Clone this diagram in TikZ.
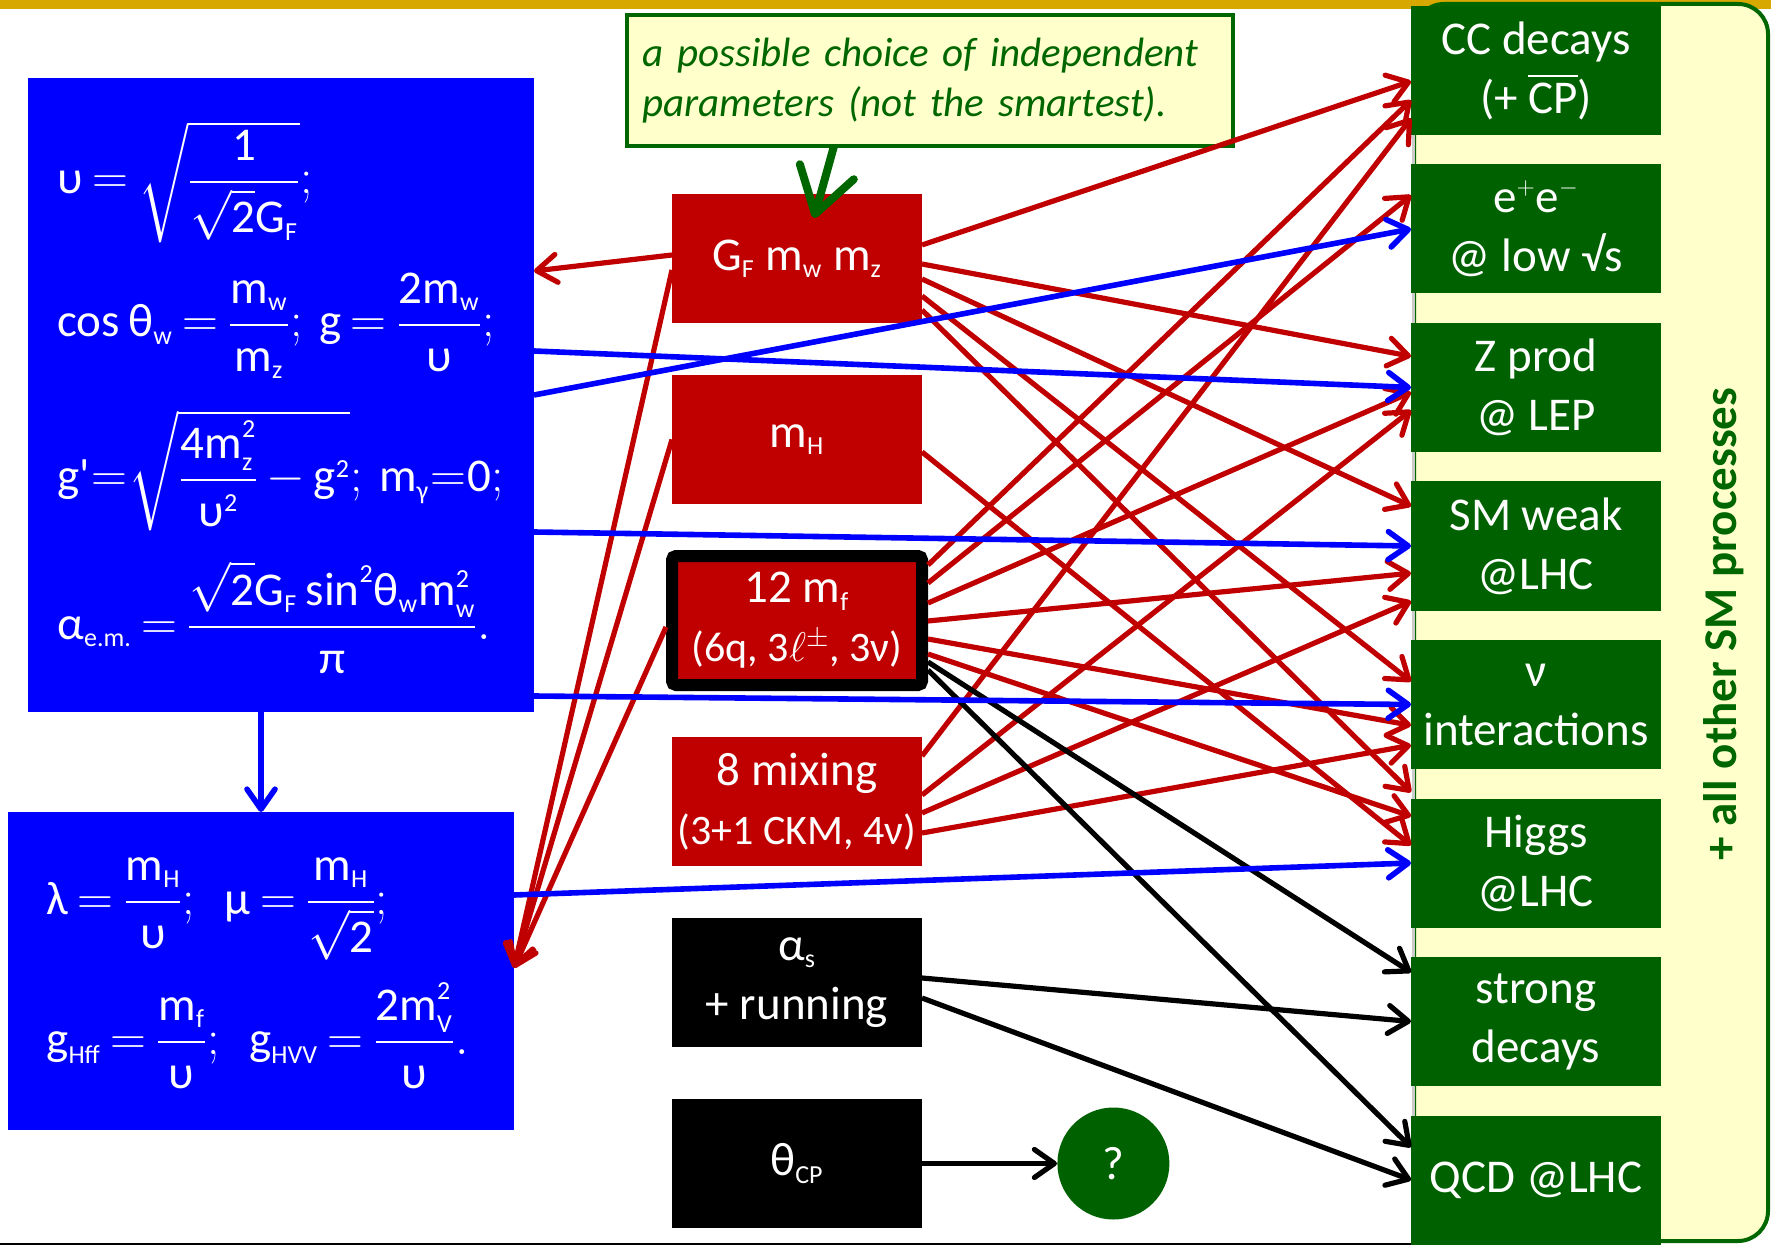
\documentclass[tikz,border=0pt]{standalone}
\usepackage{amsmath}
\usepackage{fontspec}
\setmainfont{Carlito}
\usepackage{tikz}
\usetikzlibrary{positioning,arrows.meta}

\definecolor{parred}{RGB}{192,0,0}
\definecolor{procgreen}{RGB}{0,97,0}
\definecolor{eqblue}{RGB}{0,0,255}
\definecolor{notefill}{RGB}{255,255,204}
\definecolor{notegreen}{RGB}{0,102,0}
\definecolor{bargold}{RGB}{214,168,0}
\definecolor{baseline}{RGB}{150,40,60}

\DeclareMathSizes{23.5}{23.5}{13}{10}
\thickmuskip=3.5mu plus 1mu
\medmuskip=3mu plus 1mu

\newcommand\rmt[1]{\text{#1}}
\newcommand\boxfont{\fontsize{23.5}{29.5}\selectfont}
\newcommand\subfont{\fontsize{21}{26}\selectfont}
\newcommand\notefont{\fontsize{20.5}{25}\selectfont\itshape}

\begin{document}
\begin{tikzpicture}[
    x=0.5pt, y=-0.5pt,
    node distance=26pt,
    parbox/.style={fill=parred, text=white, minimum width=125pt, minimum height=64.5pt, inner sep=0pt, outer sep=0pt, align=center, font=\boxfont},
    procbox/.style={parbox, fill=procgreen},
    eqbox/.style={fill=eqblue, inner sep=0pt, outer sep=0pt},
    eqn/.style={text=white, anchor=base west, inner sep=0pt, font=\boxfont},
    note/.style={draw=notegreen, line width=2pt, fill=notefill, text=notegreen, font=\notefont, align=left, text width=287pt, inner xsep=8pt, minimum height=65.5pt, outer sep=0pt},
    qcirc/.style={circle, fill=procgreen, text=white, minimum size=56pt, inner sep=0pt, font=\boxfont},
    redarr/.style={-{Straight Barb[length=10pt,width=14pt,round]}, draw=parred, line width=2.6pt},
    bluearr/.style={redarr, draw=eqblue, line width=2.8pt},
    blackarr/.style={redarr, draw=black},
    notearr/.style={-{Straight Barb[length=22pt,width=28pt,round]}, draw=notegreen, line width=4pt},
]
\useasboundingbox (0,0) rectangle (1771,1245);
\fill[bargold] (0,0) rectangle (1771,9);
\draw[baseline, line width=1pt] (0,1244) -- (1411,1244);

% right panel
\draw[draw=notegreen, fill=notefill, line width=2pt, rounded corners=15pt] (1414,4) rectangle (1768,1241);
\draw[black!20, line width=1.5pt] (1413,30) -- (1413,1215);
\node[font=\boxfont\bfseries, text=notegreen, rotate=90] (allsm) at (1724,624) {+ all other SM processes};

% relations
\node[eqbox, minimum width=253pt, minimum height=317pt] (eqa) at (281,395) {};
\node[eqbox, minimum width=253pt, minimum height=159pt] (eqb) at (261,971) {};
\node[eqn] (eqv) at (57,194) {$\rmt{υ}=\sqrt{\dfrac{\rmt{1}}{\sqrt{\rmt{2}}\rmt{G}_{\rmt{F}}}};$};
\node[eqn] (eqcos) at (57,337) {$\rmt{cos}\,\rmt{θ}_{\rmt{w}}=\dfrac{\rmt{m}_{\rmt{w}}}{\rmt{m}_{\rmt{z}}};\,\rmt{g}=\dfrac{\rmt{2m}_{\rmt{w}}}{\rmt{υ}};$};
\node[eqn] (eqgp) at (57,492) {$\rmt{g\textquotesingle}\!=\!\sqrt{\dfrac{\rmt{4m}_{\rmt{z}}^{\rmt{2}}}{\rmt{υ}^{\rmt{2}}}-\rmt{g}^{\rmt{2}}};\,\rmt{m}_{\rmt{γ}}\!=\!\rmt{0};$};
\node[eqn] (eqal) at (57,639) {$\rmt{α}_{\rmt{e.m.}}=\dfrac{\sqrt{\rmt{2}}\rmt{G}_{\rmt{F}}\,\rmt{sin}^{\rmt{2}}\rmt{θ}_{\rmt{w}}\rmt{m}_{\rmt{w}}^{\rmt{2}}}{\rmt{π}}.$};
\node[eqn] (eqlam) at (46,914) {$\rmt{λ}=\dfrac{\rmt{m}_{\rmt{H}}}{\rmt{υ}};\ \ \rmt{μ}=\dfrac{\rmt{m}_{\rmt{H}}}{\sqrt{\rmt{2}}};$};
\node[eqn] (eqghf) at (46,1054) {$\rmt{g}_{\rmt{Hff}}=\dfrac{\rmt{m}_{\rmt{f}}}{\rmt{υ}};\ \ \rmt{g}_{\rmt{HVV}}=\dfrac{\rmt{2m}_{\rmt{V}}^{\rmt{2}}}{\rmt{υ}}.$};

% parameters
\node[parbox] (gf) at (797,258.5) {$\rmt{G}_{\rmt{F}}$ $\rmt{m}_{\rmt{w}}$ $\rmt{m}_{\rmt{z}}$};
\node[parbox, below=of gf] (mh) {$\rmt{m}_{\rmt{H}}$};
\node[parbox, below=of mh, draw=black, line width=6pt, rounded corners=2pt] (mf) {12 $\rmt{m}_{\rmt{f}}$\\{\subfont(6q, 3$\ell^{\pm}$, 3ν)}};
\node[parbox, below=of mf] (mix) {8 mixing\\{\subfont(3+1 CKM, 4ν)}};
\node[parbox, fill=black, below=of mix] (as) {$\rmt{α}_{\rmt{s}}$\\+ running};
\node[parbox, fill=black, below=of as] (th) {$\rmt{θ}_{\rmt{CP}}$};
\node[qcirc, right=67.5pt of th] (q) {?};

\node[note] (note) at (929.5,80.5) {a possible choice of independent\\parameters (not the smartest).};

% processes
\begin{scope}[node distance=14.75pt]
\node[procbox] (ccdec) at (1536,70.5) {CC decays\\(+ $\overline{\rmt{CP}}$)};
\node[procbox, below=of ccdec] (eelow) {$\rmt{e}^{+}\rmt{e}^{-}$\\@ low √s};
\node[procbox, below=of eelow] (zprod) {Z prod\\@ LEP};
\node[procbox, below=of zprod] (smweak) {SM weak\\@LHC};
\node[procbox, below=of smweak] (nuint) {ν\\interactions};
\node[procbox, below=of nuint] (higgs) {Higgs\\@LHC};
\node[procbox, below=of higgs] (strong) {strong\\decays};
\node[procbox, below=of strong] (qcd) {QCD @LHC};
\end{scope}

\draw[notearr] ([xshift=-47.75pt]note.south) -- ([xshift=8.5pt,yshift=-12pt]gf.north);

% red
\draw[redarr] ([yshift=1.75pt]gf.west) -- ([yshift=62pt]eqa.east);
\draw[redarr] ([yshift=-5.75pt]gf.west) -- ([yshift=1.5pt]eqb.east);
\draw[redarr] (mh.west) -- ([yshift=1.5pt]eqb.east);
\draw[redarr] ([xshift=-3pt,yshift=-3.25pt]mf.west) -- ([yshift=1.5pt]eqb.east);
\draw[redarr] ([yshift=6.75pt]gf.east) -- ([yshift=-5.4pt]ccdec.west);
\draw[redarr] ([yshift=-2.75pt]gf.east) -- ([yshift=15.6pt]zprod.west);
\draw[redarr] ([yshift=-10.25pt]gf.east) -- ([yshift=19.9pt]smweak.west);
\draw[redarr] ([yshift=-18.75pt]gf.east) -- ([yshift=11.5pt]nuint.west);
\draw[redarr] ([yshift=-25.75pt]gf.east) -- ([yshift=35.4pt]higgs.west);
\draw[redarr] ([yshift=-6.25pt]mh.east) -- ([yshift=8.9pt]higgs.west);
\draw[redarr] ([xshift=3pt,yshift=27.75pt]mf.east) -- ([yshift=-14.9pt]ccdec.west);
\draw[redarr] ([xshift=3pt,yshift=18.75pt]mf.east) -- ([yshift=16.9pt]eelow.west);
\draw[redarr] ([xshift=3pt,yshift=8.75pt]mf.east) -- ([yshift=-2.4pt]zprod.west);
\draw[redarr] ([xshift=3pt,yshift=-0.25pt]mf.east) -- ([yshift=-13.6pt]smweak.west);
\draw[redarr] ([xshift=3pt,yshift=-9.25pt]mf.east) -- ([yshift=-10.4pt]nuint.west);
\draw[redarr] ([xshift=3pt,yshift=-16.75pt]mf.east) -- ([yshift=23.4pt]higgs.west);
\draw[redarr] ([yshift=22.75pt]mix.east) -- ([yshift=-23.9pt]ccdec.west);
\draw[redarr] ([yshift=3.25pt]mix.east) -- ([yshift=-11.4pt]zprod.west);
\draw[redarr] ([yshift=-5.75pt]mix.east) -- ([yshift=-27.6pt]smweak.west);
\draw[redarr] ([yshift=-15.75pt]mix.east) -- ([yshift=-20.4pt]nuint.west);

% black
\draw[blackarr] ([xshift=3pt,yshift=-20.75pt]mf.east) -- ([yshift=24.6pt]strong.west);
\draw[blackarr] ([xshift=3pt,yshift=-24.75pt]mf.east) -- ([yshift=16.4pt]qcd.west);
\draw[blackarr] ([yshift=2.25pt]as.east) -- (strong.west);
\draw[blackarr] ([yshift=-7.75pt]as.east) -- (qcd.west);
\draw[blackarr] (th) -- (q);

% blue
\draw[bluearr] (eqa.east) -- (eelow.west);
\draw[bluearr] ([yshift=22pt]eqa.east) -- (zprod.west);
\draw[bluearr] ([yshift=-68.5pt]eqa.east) -- (smweak.west);
\draw[bluearr] ([yshift=-150.5pt]eqa.east) -- (nuint.west);
\draw[bluearr] ([yshift=38pt]eqb.east) -- (higgs.west);
\draw[bluearr] (eqb.north |- eqa.south) -- (eqb.north);
\end{tikzpicture}
\end{document}
